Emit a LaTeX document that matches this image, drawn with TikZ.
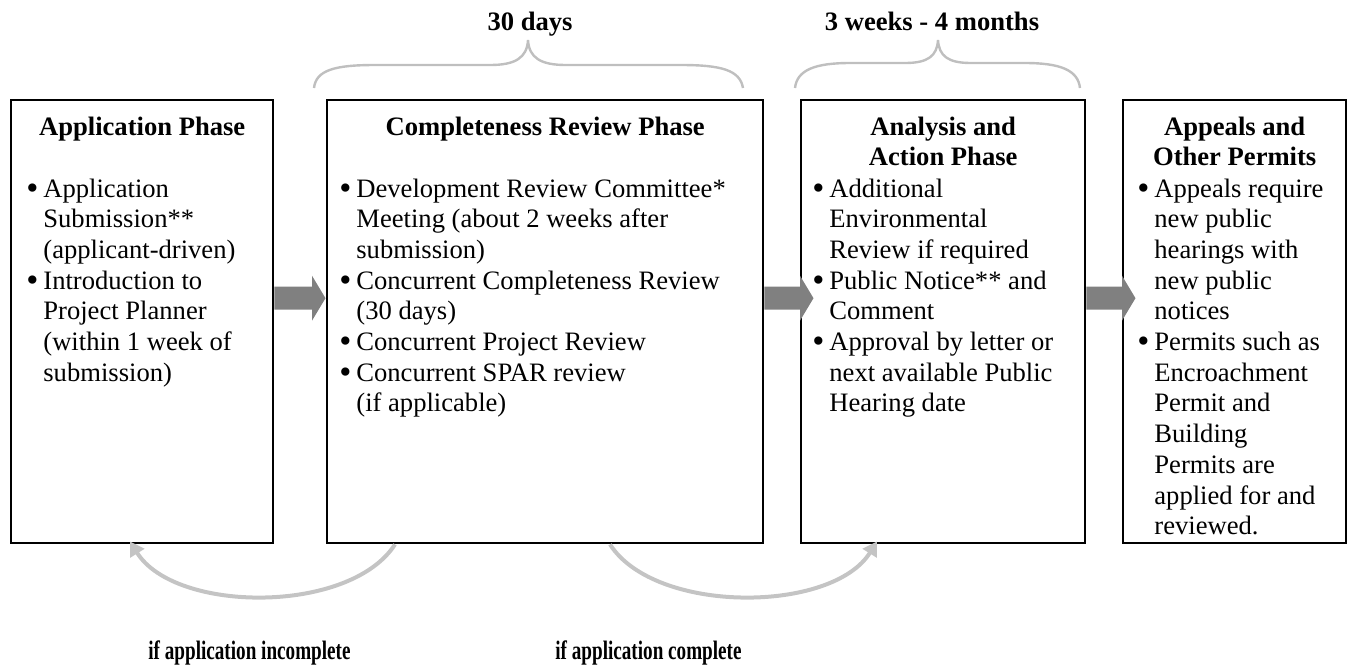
\documentclass[tikz,border=0pt]{standalone}
\usepackage{fontspec}
\usepackage{graphicx}
\setmainfont{Liberation Serif}
\usetikzlibrary{calc,arrows.meta}
\definecolor{bracegray}{HTML}{BFBFBF}
\definecolor{curvegray}{HTML}{C4C4C4}
\definecolor{blockgray}{HTML}{808080}
\newcommand\bitem{\makebox[8.5pt][l]{\raisebox{-1.2pt}{\scalebox{1.3}{\textbullet}}}}
\newcommand\bcont{\hspace*{8.5pt}}
\newcommand\flowarrow[3]{%
  \fill[blockarrow] let \p1=(#1.east), \p2=($(#2.west)+(#3,0)$) in
   (\x1,\y1+6pt) -- (\x2,\y1+6pt) -- (\x2,\y1+0.5pt) -- (\x2+6.75pt,\y1+11.75pt)
   -- (\x2,\y1+23pt) -- (\x2,\y1+17.5pt) -- (\x1,\y1+17.5pt) -- cycle;}
\tikzset{
  txt/.style={inner sep=0pt, font=\fontsize{13.3pt}{15.35pt}\selectfont},
  phasebox/.style={draw, line width=1.2pt, inner sep=0pt, anchor=north west, minimum height=221.5pt},
  head/.style={txt, anchor=base, font=\fontsize{13.3pt}{15.1pt}\selectfont\bfseries},
  blist/.style={txt, anchor=base west},
  blockarrow/.style={fill=blockgray},
  curved/.style={draw=curvegray, line width=2pt, -{Triangle[length=7pt,width=8pt]}},
  bracepath/.style={draw=bracegray, line width=1.2pt},
}
\begin{document}
\begin{tikzpicture}[x=0.5pt,y=-0.5pt]
\useasboundingbox (0,0) rectangle (1351,666);
% boxes
\node[phasebox, minimum width=131pt] (b1) at (10,99) {};
\node[phasebox, minimum width=218pt] (b2) at (326,99) {};
\node[phasebox, minimum width=142pt] (b3) at (800,99) {};
\node[phasebox, minimum width=111.5pt] (b4) at (1122,99) {};
% headings
\node[head] (h1) at (b1.north |- 0,135) {\begin{tabular}[t]{@{}c@{}}Application Phase\end{tabular}};
\node[head] (h2) at (b2.north |- 0,135) {\begin{tabular}[t]{@{}c@{}}Completeness Review Phase\end{tabular}};
\node[head] (h3) at (b3.north |- 0,135) {\begin{tabular}[t]{@{}c@{}}Analysis and\\Action Phase\end{tabular}};
\node[head] (h4) at (b4.north |- 0,135) {\begin{tabular}[t]{@{}c@{}}Appeals and\\Other Permits\end{tabular}};
% lists
\node[blist] (l1) at (26,197) {\begin{tabular}[t]{@{}l@{}}
\bitem Application\\
\bcont Submission**\\
\bcont (applicant-driven)\\
\bitem Introduction to\\
\bcont Project Planner\\
\bcont (within 1 week of\\
\bcont submission)
\end{tabular}};
\node[blist] (l2) at (339,197) {\begin{tabular}[t]{@{}l@{}}
\bitem Development Review Committee*\\
\bcont Meeting (about 2 weeks after\\
\bcont submission)\\
\bitem Concurrent Completeness Review\\
\bcont (30 days)\\
\bitem Concurrent Project Review\\
\bitem Concurrent SPAR review\\
\bcont (if applicable)
\end{tabular}};
\node[blist] (l3) at (812,197) {\begin{tabular}[t]{@{}l@{}}
\bitem Additional\\
\bcont Environmental\\
\bcont Review if required\\
\bitem Public Notice** and\\
\bcont Comment\\
\bitem Approval by letter or\\
\bcont next available Public\\
\bcont Hearing date
\end{tabular}};
\node[blist] (l4) at (1137,197) {\begin{tabular}[t]{@{}l@{}}
\bitem Appeals require\\
\bcont new public\\
\bcont hearings with\\
\bcont new public\\
\bcont notices\\
\bitem Permits such as\\
\bcont Encroachment\\
\bcont Permit and\\
\bcont Building\\
\bcont Permits are\\
\bcont applied for and\\
\bcont reviewed.
\end{tabular}};
% block arrows
\flowarrow{b1}{b2}{-7pt}
\flowarrow{b2}{b3}{0pt}
\flowarrow{b3}{b4}{0pt}
% braces
\path[bracepath] (314,88) .. controls (316,70) and (335,65) .. (375,65) -- (490,65)
  .. controls (515,65) and (527,58) .. (528,40)
  .. controls (529,58) and (541,65) .. (566,65) -- (681,65)
  .. controls (721,65) and (740,70) .. (743,88);
\path[bracepath] (795,88) .. controls (797,70) and (815,63) .. (850,63) -- (905,63)
  .. controls (928,63) and (937,56) .. (938,40)
  .. controls (939,56) and (948,63) .. (971,63) -- (1025,63)
  .. controls (1060,63) and (1078,70) .. (1080,88);
\node[head] (t1) at (530,30) {30 days};
\node[head] (t2) at (932,30) {3 weeks - 4 months};
% curved arrows
\draw[curved] ($(b2.south west)+(69,0)$) .. controls +(-45,70) and +(45,72) .. ($(b1.south west)+(120,-3)$);
\draw[curved] ($(b2.south west)+(284,0)$) .. controls +(45,70) and +(-45,72) .. ($(b3.south west)+(77,-3)$);
% bottom labels
\node[head, anchor=base west] (c1) at (148,659) {\scalebox{0.72}[1]{if application incomplete}};
\node[head, anchor=base west] (c2) at (555,659) {\scalebox{0.72}[1]{if application complete}};
\end{tikzpicture}
\end{document}
